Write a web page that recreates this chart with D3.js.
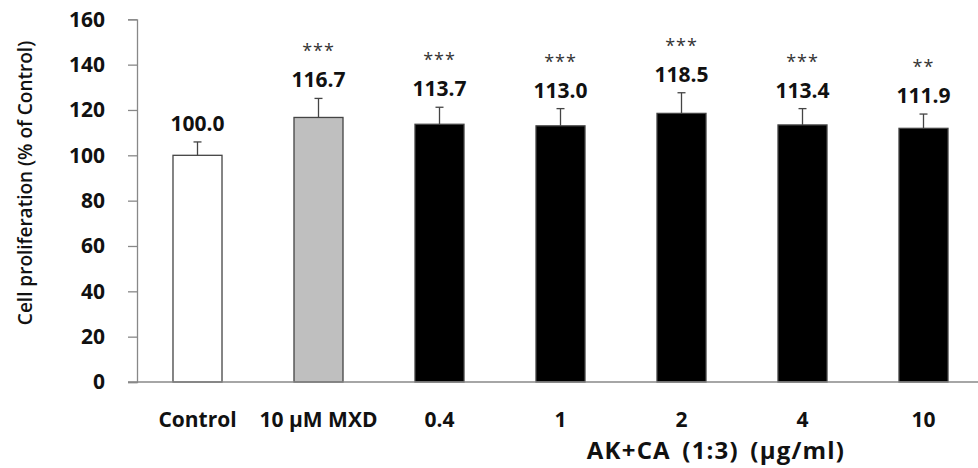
<!DOCTYPE html>
<html>
<head>
<meta charset="utf-8">
<script src="https://cdn.jsdelivr.net/npm/d3@7"></script>
<style>
  body { margin: 0; background: #fff; }
  text { font-family: "Open Sans", "DejaVu Sans", sans-serif; }
</style>
</head>
<body>
<div id="chart-area"></div>
<script>
const categories = ["Control", "10 µM MXD", "0.4", "1", "2", "4", "10"];
const groups = ["control", "mxd", "sample", "sample", "sample", "sample", "sample"];
const means = [100.0, 116.7, 113.7, 113.0, 118.5, 113.4, 111.9];
const errors = [5.9, 8.4, 7.5, 7.6, 9.1, 7.2, 6.3];
const stars = ["", "***", "***", "***", "***", "***", "**"];
const yTicks = [0, 20, 40, 60, 80, 100, 120, 140, 160];
const xTitle = "AK+CA (1:3) (µg/ml)";
const yTitle = "Cell proliferation (% of Control)";

const renderChart = () => {
    const w = 978;
    const h = 468;

    const xScale = d3.scaleBand()
        .domain(categories)
        .range([137, 984])
        .paddingInner(0.595)
        .paddingOuter(0.2975);

    const yScale = d3.scaleLinear()
        .domain([0, 160])
        .range([382, 19.3]);

    const fill = d3.scaleOrdinal()
        .domain(["control", "mxd", "sample"])
        .range(["#ffffff", "#bfbfbf", "#000000"]);

    const svg = d3.select("#chart-area")
        .append("svg")
        .attr("width", w)
        .attr("height", h)
        .style("display", "block");

    // y axis
    const yAxis = d3.axisLeft(yScale)
        .tickValues(yTicks)
        .tickSize(9)
        .tickPadding(23)
        .tickFormat(d3.format("d"));

    const gy = svg.append("g")
        .attr("transform", "translate(137,0)")
        .call(yAxis);
    gy.select(".domain").attr("stroke", "#888").attr("stroke-width", 1.3);
    gy.selectAll(".tick line").attr("stroke", "#888").attr("stroke-width", 1.3);
    gy.selectAll(".tick text")
        .attr("fill", "#111")
        .style("font-size", "21px")
        .style("font-weight", "bold");

    // bars
    const data = categories.map((c, i) => ({ c, g: groups[i], m: means[i], e: errors[i], s: stars[i] }));

    svg.selectAll("rect.bar")
        .data(data)
        .enter()
        .append("rect")
        .attr("class", "bar")
        .attr("x", d => xScale(d.c))
        .attr("y", d => yScale(d.m))
        .attr("width", xScale.bandwidth())
        .attr("height", d => yScale(0) - yScale(d.m))
        .attr("fill", d => fill(d.g))
        .attr("stroke", "#444")
        .attr("stroke-width", 1.3);

    // error bars (upper only)
    const cx = d => xScale(d.c) + xScale.bandwidth() / 2;
    svg.selectAll("line.err")
        .data(data)
        .enter()
        .append("line")
        .attr("x1", cx)
        .attr("x2", cx)
        .attr("y1", d => yScale(d.m))
        .attr("y2", d => yScale(d.m + d.e))
        .attr("stroke", "#444")
        .attr("stroke-width", 1.3);

    svg.selectAll("line.cap")
        .data(data)
        .enter()
        .append("line")
        .attr("x1", d => cx(d) - 4)
        .attr("x2", d => cx(d) + 4)
        .attr("y1", d => yScale(d.m + d.e))
        .attr("y2", d => yScale(d.m + d.e))
        .attr("stroke", "#444")
        .attr("stroke-width", 1.3);

    // x axis line
    svg.append("line")
        .attr("x1", 128)
        .attr("x2", w)
        .attr("y1", yScale(0))
        .attr("y2", yScale(0))
        .attr("stroke", "#888")
        .attr("stroke-width", 1.3);

    // value labels
    svg.selectAll("text.val")
        .data(data)
        .enter()
        .append("text")
        .attr("x", cx)
        .attr("y", d => yScale(d.m + d.e) - 11)
        .attr("text-anchor", "middle")
        .attr("fill", "#111")
        .style("font-size", "21px")
        .style("font-weight", "bold")
        .text(d => d.m.toFixed(1));

    // significance stars
    svg.selectAll("text.star")
        .data(data)
        .enter()
        .append("text")
        .attr("x", cx)
        .attr("y", d => yScale(d.m + d.e) - 11 - 30)
        .attr("text-anchor", "middle")
        .attr("fill", "#333")
        .style("font-size", "18px")
        .style("letter-spacing", "1px")
        .text(d => d.s);

    // category labels
    svg.selectAll("text.cat")
        .data(data)
        .enter()
        .append("text")
        .attr("x", cx)
        .attr("y", 427)
        .attr("text-anchor", "middle")
        .attr("fill", "#111")
        .style("font-size", "21px")
        .style("font-weight", "bold")
        .text(d => d.c);

    // x title
    svg.append("text")
        .attr("x", 716)
        .attr("y", 459)
        .attr("text-anchor", "middle")
        .attr("fill", "#111")
        .style("font-size", "24px")
        .style("font-weight", "bold")
        .style("letter-spacing", "1.2px")
        .style("word-spacing", "4px")
        .text(xTitle);

    // y title
    svg.append("text")
        .attr("transform", "translate(32,183) rotate(-90)")
        .attr("text-anchor", "middle")
        .attr("fill", "#111")
        .style("font-size", "19px")
        .style("font-weight", 600)
        .text(yTitle);
}

renderChart();
</script>
</body>
</html>
